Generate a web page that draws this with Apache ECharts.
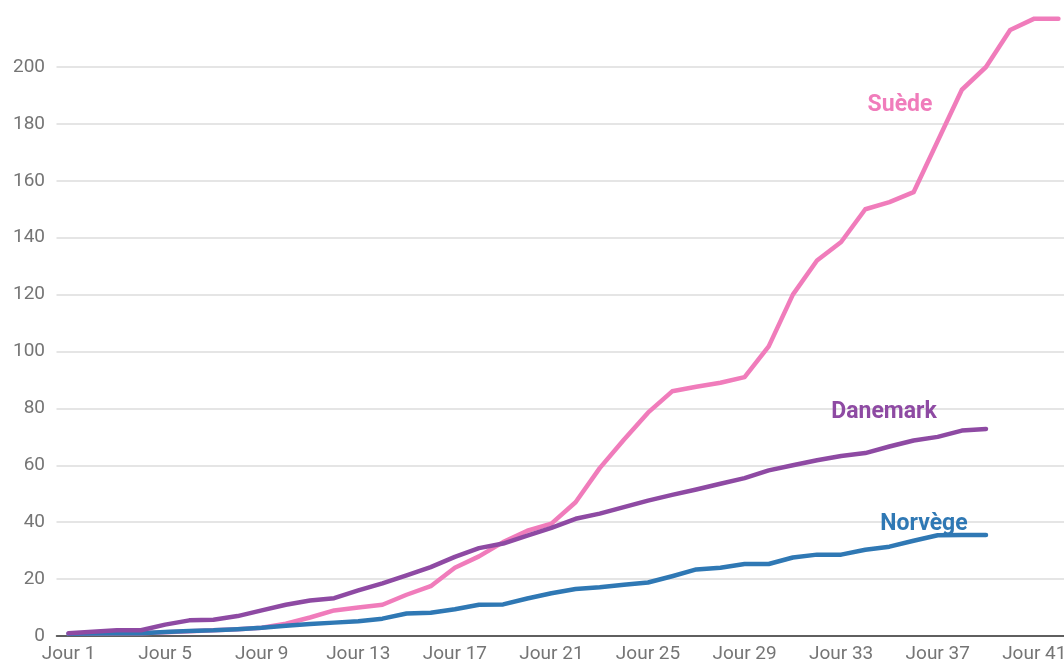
<!DOCTYPE html>
<html>
<head>
<meta charset="utf-8">
<script src="https://cdn.jsdelivr.net/npm/echarts@6/dist/echarts.min.js"></script>
<style>
  html, body { margin: 0; padding: 0; background: #ffffff; }
  #chart { width: 1064px; height: 666px; }
</style>
</head>
<body>
<div id="chart"></div>
<script>
// Day labels along the horizontal axis
const days = [
  'Jour 1', 'Jour 2', 'Jour 3', 'Jour 4', 'Jour 5', 'Jour 6', 'Jour 7',
  'Jour 8', 'Jour 9', 'Jour 10', 'Jour 11', 'Jour 12', 'Jour 13', 'Jour 14',
  'Jour 15', 'Jour 16', 'Jour 17', 'Jour 18', 'Jour 19', 'Jour 20', 'Jour 21',
  'Jour 22', 'Jour 23', 'Jour 24', 'Jour 25', 'Jour 26', 'Jour 27', 'Jour 28',
  'Jour 29', 'Jour 30', 'Jour 31', 'Jour 32', 'Jour 33', 'Jour 34', 'Jour 35',
  'Jour 36', 'Jour 37', 'Jour 38', 'Jour 39', 'Jour 40', 'Jour 41', 'Jour 42'
];

// Cumulative values per country
const suede = [
  0.8, 0.9, 1, 1, 1.3, 1.7, 2, 2.4, 2.9, 4.3,
  6.5, 9, 10, 11, 14.5, 17.5, 24, 28, 33, 37,
  39.5, 47, 59, 69, 78.5, 86, 87.6, 89, 91, 101.8,
  120, 132, 138.5, 150, 152.5, 156, 174, 192, 200, 213,
  217, 217
];
const danemark = [
  1, 1.5, 2, 2, 4, 5.5, 5.7, 7, 9, 11,
  12.5, 13.3, 16, 18.5, 21.3, 24.2, 27.8, 30.9, 32.5, 35.3,
  38, 41.2, 43, 45.3, 47.6, 49.6, 51.5, 53.5, 55.5, 58.2,
  60, 61.8, 63.3, 64.3, 66.6, 68.7, 70, 72.2, 72.8
];
const norvege = [
  0.8, 0.9, 1, 1, 1.4, 1.8, 2, 2.4, 2.9, 3.6,
  4.2, 4.7, 5.2, 6.1, 7.9, 8.2, 9.4, 11, 11.1, 13.2,
  15, 16.5, 17.1, 18, 18.8, 21, 23.4, 24, 25.3, 25.3,
  27.6, 28.6, 28.6, 30.3, 31.4, 33.5, 35.4, 35.5, 35.5
];

const colors = { suede: '#f07cbb', danemark: '#8e4aa3', norvege: '#2f78b4' };
const fontFamily = 'Roboto, "Noto Sans", sans-serif';

const chart = echarts.init(document.getElementById('chart'), null, { renderer: 'canvas' });

function lineSeries(name, data, color) {
  return {
    name: name,
    type: 'line',
    data: data,
    symbol: 'none',
    clip: false,
    lineStyle: { width: 4.5, color: color, cap: 'round', join: 'round' },
    itemStyle: { color: color },
    emphasis: { disabled: true }
  };
}

// Country names written next to their lines
function tag(text, x, y, color) {
  return {
    type: 'text',
    x: x,
    y: y,
    z: 100,
    style: {
      text: text,
      fill: color,
      font: 'bold 23px ' + fontFamily,
      textAlign: 'center',
      textVerticalAlign: 'middle'
    }
  };
}

chart.setOption({
  animation: false,
  backgroundColor: '#ffffff',
  grid: {
    left: 56.5,
    top: 67,
    width: 1014,
    height: 569,
    containLabel: false,
    outerBoundsMode: 'none'
  },
  xAxis: {
    type: 'category',
    data: days,
    boundaryGap: true,
    axisLine: { show: true, lineStyle: { color: '#333333', width: 1.5 } },
    axisTick: { show: false },
    axisLabel: {
      interval: 3,
      color: '#757575',
      fontSize: 19,
      fontFamily: fontFamily,
      margin: 9
    },
    splitLine: { show: false }
  },
  yAxis: {
    type: 'value',
    min: 0,
    max: 200,
    interval: 20,
    axisLine: { show: false },
    axisTick: { show: false },
    axisLabel: {
      color: '#757575',
      fontSize: 19,
      fontFamily: fontFamily,
      margin: 11.5
    },
    splitLine: { show: true, lineStyle: { color: '#dcdcdc', width: 1.5 } }
  },
  series: [
    lineSeries('Suède', suede, colors.suede),
    lineSeries('Norvège', norvege, colors.norvege),
    lineSeries('Danemark', danemark, colors.danemark)
  ],
  graphic: [
    tag('Suède', 900, 105, colors.suede),
    tag('Danemark', 884, 412, colors.danemark),
    tag('Norvège', 924, 524, colors.norvege)
  ]
});
</script>
</body>
</html>
